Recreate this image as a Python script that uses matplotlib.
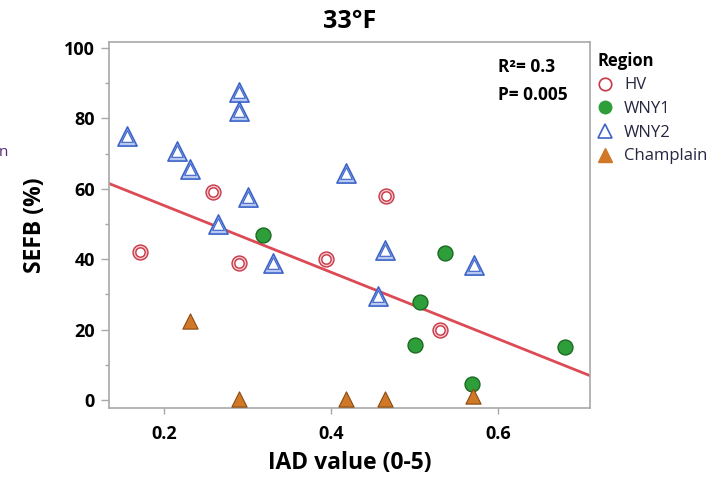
import numpy as np
import matplotlib
matplotlib.use("Agg")
import matplotlib.pyplot as plt
from matplotlib.lines import Line2D

plt.rcParams['font.family'] = ['Open Sans', 'DejaVu Sans']

# ---------------------------------------------------------------------------
# Dados
# ---------------------------------------------------------------------------
hv_x = [0.171, 0.259, 0.290, 0.394, 0.466, 0.531]
hv_y = [42.0, 59.0, 39.0, 40.0, 58.0, 20.0]

wny1_x = [0.318, 0.507, 0.500, 0.536, 0.569, 0.680]
wny1_y = [47.0, 27.7, 15.6, 41.8, 4.5, 15.1]

wny2_x = [0.155, 0.215, 0.231, 0.264, 0.290, 0.290, 0.300, 0.330, 0.418, 0.456, 0.465, 0.571]
wny2_y = [75.0, 70.6, 65.6, 50.1, 87.6, 82.2, 57.7, 38.8, 64.5, 29.5, 42.5, 38.3]

champ_x = [0.231, 0.290, 0.418, 0.465, 0.570]
champ_y = [22.4, 0.3, 0.3, 0.3, 1.2]

# reta ajustada
fit_intercept = 74.2
fit_slope = -94.8

regions = ['HV', 'WNY1', 'WNY2', 'Champlain']
x_ticks = [0.2, 0.4, 0.6]
y_ticks = [0, 20, 40, 60, 80, 100]

red = '#c83848'
green = '#2e9e3a'
blue = '#3c64c8'
orange = '#d07828'

fig = plt.figure(figsize=(7.28, 4.79), dpi=100)
ax = fig.add_axes([0.1497, 0.1482, 0.6607, 0.7641])

xlim = (0.134, 0.710)
ylim = (-2.3, 101.7)

# reta de regressao
xl = np.array(xlim)
ax.plot(xl, fit_intercept + fit_slope * xl, color='#dc4a55', lw=2, zorder=2)

# HV - circulo duplo
ax.scatter(hv_x, hv_y, s=115, marker='o', facecolor='#f4c8cc', edgecolor=red, lw=1.0, zorder=3)
ax.scatter(hv_x, hv_y, s=45, marker='o', facecolor='white', edgecolor=red, lw=1.0, zorder=3)

# WNY2 - triangulo duplo
ax.scatter(wny2_x, wny2_y, s=190, marker='^', facecolor='#b8c8f0', edgecolor=blue, lw=1.2, zorder=3)
ax.scatter(wny2_x, wny2_y, s=70, marker='^', facecolor='white', edgecolor=blue, lw=0.8, zorder=3)

# WNY1
ax.scatter(wny1_x, wny1_y, s=115, marker='o', facecolor=green, edgecolor='#1c6a22', lw=1.0, zorder=4)

# Champlain
ax.scatter(champ_x, champ_y, s=120, marker='^', facecolor=orange, edgecolor='#8a4a10', lw=0.8, zorder=5)

ax.set_xlim(xlim)
ax.set_ylim(ylim)
ax.set_xticks(x_ticks)
ax.set_xticklabels([str(t) for t in x_ticks])
ax.set_yticks(y_ticks)
ax.set_yticks([10, 30, 50, 70, 90], minor=True)

for s in ax.spines.values():
    s.set_color('#a8a8a8')
    s.set_linewidth(1.2)

ax.tick_params(axis='y', which='major', length=6, width=1, color='#a8a8a8', pad=4)
ax.tick_params(axis='y', which='minor', length=3, width=1, color='#a8a8a8')
ax.tick_params(axis='x', which='major', length=4, width=1, color='#a8a8a8', pad=8)
for lab in ax.get_xticklabels() + ax.get_yticklabels():
    lab.set_fontweight('bold')
    lab.set_fontsize(13)

ax.set_xlabel('IAD value (0-5)', fontsize=16.5, fontweight='bold')
ax.xaxis.set_label_coords(0.5, -0.118)
ax.set_ylabel('SEFB (%)', fontsize=16.5, fontweight='bold')
ax.yaxis.set_label_coords(-0.129, 0.5)
ax.set_title('33°F', fontsize=18, fontweight='bold', pad=10)

ax.text(0.809, 0.918, 'R²= 0.3', transform=ax.transAxes, fontsize=12.5,
        fontweight='bold', va='baseline')
ax.text(0.809, 0.8415, 'P= 0.005', transform=ax.transAxes, fontsize=12.5,
        fontweight='bold', va='baseline')

# legenda
handles = [
    Line2D([], [], ls='none', marker='o', ms=9, mfc='white', mec=red, mew=1.2),
    Line2D([], [], ls='none', marker='o', ms=9, mfc=green, mec=green),
    Line2D([], [], ls='none', marker='^', ms=10, mfc='white', mec=blue, mew=1.2),
    Line2D([], [], ls='none', marker='^', ms=10, mfc=orange, mec=orange),
]
leg = fig.legend(handles, regions, loc='upper left', bbox_to_anchor=(0.8205, 0.892),
                 frameon=False, fontsize=12, title='Region',
                 title_fontproperties={'weight': 'bold', 'size': 12},
                 alignment='left', handlelength=0.9, handletextpad=0.7,
                 labelspacing=0.46, borderaxespad=0, borderpad=0)
for t in leg.get_texts():
    t.set_color('#262640')

# fragmento de texto cortado na borda esquerda
fig.text(-0.002, 1 - 152 / 479, 'n', fontsize=11, color='#5a2a7a', va='center')

fig.savefig('out.png', dpi=100)
